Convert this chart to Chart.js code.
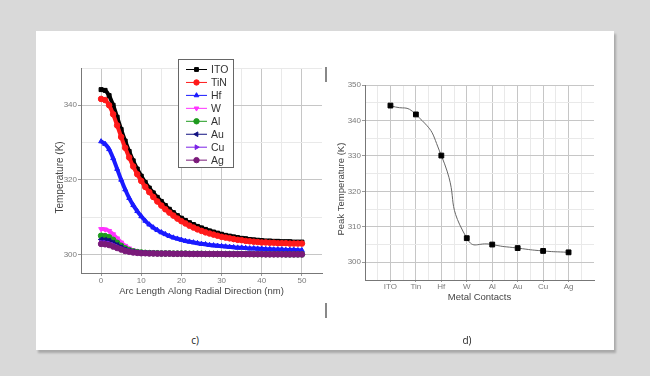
<!DOCTYPE html>
<html>
<head>
<meta charset="utf-8">
<script src="https://cdn.jsdelivr.net/npm/chart.js@4.4.1/dist/chart.umd.min.js"></script>
<style>
  html, body { margin: 0; padding: 0; }
  body { width: 650px; height: 376px; background: #d9d9d9; position: relative; overflow: hidden; }
  #panel { position: absolute; left: 36px; top: 31px; width: 578px; height: 319px; background: #fff;
           box-shadow: 2px 3px 2px rgba(0,0,0,0.22); }
  #c1 { position: absolute; left: 36px; top: 31px; }
  #c2 { position: absolute; left: 316px; top: 31px; }
  .lbl { position: absolute; font-family: "Open Sans", "Liberation Sans", sans-serif; font-size: 10px; color: #222;
         transform: translate(-50%, -50%); }
  .bar { position: absolute; width: 2px; background: #888; }
</style>
</head>
<body>
<div id="panel"></div>
<canvas id="c1" width="300" height="280"></canvas>
<canvas id="c2" width="300" height="290"></canvas>
<div class="bar" style="left:325px; top:67px; height:15px;"></div>
<div class="bar" style="left:325px; top:303px; height:15px;"></div>
<div class="lbl" style="left:195px; top:340px;">c)</div>
<div class="lbl" style="left:467px; top:340px;">d)</div>
<script>
// ---------- Data: chart c) ----------
const arcLength = [0,1,2,3,4,5,6,7,8,9,10,11,12,13,14,15,16,17,18,19,20,21,22,23,24,25,26,27,28,29,30,31,32,33,34,35,36,37,38,39,40,41,42,43,44,45,46,47,48,49,50];
const seriesNames = ["ITO","TiN","Hf","W","Al","Au","Cu","Ag"];
const tempITO = [344.2,344.0,342.6,340.0,336.8,333.5,330.4,327.6,325.1,322.9,321.0,
  319.3,317.8,316.5,315.3,314.2,313.1,312.1,311.2,310.4,309.7,
  309.1,308.5,308.0,307.5,307.1,306.7,306.3,306.0,305.7,305.4,
  305.1,304.9,304.7,304.5,304.3,304.2,304.0,303.9,303.8,303.7,
  303.6,303.6,303.5,303.5,303.4,303.4,303.4,303.3,303.3,303.3];
const tempTiN = [341.7,341.4,340.0,337.6,334.6,331.5,328.6,326.0,323.6,321.5,319.7,
  318.1,316.7,315.4,314.2,313.1,312.1,311.2,310.4,309.6,308.9,
  308.3,307.7,307.2,306.7,306.3,305.9,305.6,305.3,305.0,304.7,
  304.5,304.3,304.1,303.9,303.8,303.6,303.5,303.4,303.3,303.2,
  303.2,303.1,303.1,303.0,303.0,303.0,302.9,302.9,302.9,302.9];
const tempHf = [330.3,329.6,328.2,325.8,322.9,320.0,317.4,315.1,313.2,311.6,310.2,
  309.0,308.0,307.2,306.5,305.9,305.4,304.9,304.5,304.2,303.9,
  303.6,303.4,303.2,303.0,302.8,302.7,302.5,302.4,302.3,302.2,
  302.1,302.0,301.9,301.8,301.8,301.7,301.6,301.6,301.5,301.5,
  301.4,301.4,301.3,301.3,301.3,301.2,301.2,301.2,301.1,301.1];
const tempW = [306.8,306.7,306.3,305.4,304.3,303.2,302.3,301.6,301.1,300.8,300.6,
  300.5,300.4,300.35,300.3,300.3,300.25,300.25,300.2,300.2,300.2,
  300.2,300.15,300.15,300.15,300.15,300.1,300.1,300.1,300.1,300.1,
  300.1,300.1,300.1,300.1,300.1,300.1,300.1,300.05,300.05,300.05,
  300.05,300.05,300.05,300.05,300.05,300.0,300.0,300.0,300.0,300.0];
const tempAl = [305.0,304.9,304.6,303.9,303.1,302.3,301.6,301.1,300.8,300.6,300.5,
  300.4,300.35,300.3,300.3,300.25,300.25,300.25,300.2,300.2,300.2,
  300.2,300.15,300.15,300.15,300.15,300.1,300.1,300.1,300.1,300.1,
  300.1,300.1,300.1,300.1,300.1,300.1,300.1,300.05,300.05,300.05,
  300.05,300.05,300.05,300.05,300.05,300.0,300.0,300.0,300.0,300.0];
const tempAu = [304.0,303.9,303.7,303.1,302.5,301.9,301.3,300.9,300.7,300.5,300.4,
  300.35,300.3,300.3,300.25,300.25,300.25,300.25,300.2,300.2,300.2,
  300.2,300.15,300.15,300.15,300.15,300.1,300.1,300.1,300.1,300.1,
  300.1,300.1,300.1,300.1,300.1,300.1,300.1,300.05,300.05,300.05,
  300.05,300.05,300.05,300.05,300.05,300.0,300.0,300.0,300.0,300.0];
const tempCu = [303.2,303.1,302.9,302.5,302.0,301.5,301.1,300.8,300.6,300.5,300.4,
  300.35,300.3,300.3,300.25,300.25,300.25,300.25,300.2,300.2,300.2,
  300.2,300.15,300.15,300.15,300.15,300.1,300.1,300.1,300.1,300.1,
  300.1,300.1,300.1,300.1,300.1,300.1,300.1,300.05,300.05,300.05,
  300.05,300.05,300.05,300.05,300.05,300.0,300.0,300.0,300.0,300.0];
const tempAg = [302.8,302.7,302.5,302.1,301.7,301.3,300.9,300.7,300.5,300.4,300.3,
  300.3,300.25,300.25,300.2,300.2,300.2,300.2,300.15,300.15,300.15,
  300.15,300.1,300.1,300.1,300.1,300.1,300.1,300.1,300.1,300.1,
  300.05,300.05,300.05,300.05,300.05,300.05,300.05,300.05,300.05,300.05,
  300.0,300.0,300.0,300.0,300.0,300.0,300.0,300.0,300.0,300.0];
const xTicksC = [0,10,20,30,40,50];
const yTicksC = [300,320,340];

// ---------- Data: chart d) ----------
const metals = ["ITO","Tin","Hf","W","Al","Au","Cu","Ag"];
const peakTemps = [344.2,341.7,330.1,306.8,305.0,304.0,303.2,302.8];
const yTicksD = [300,310,320,330,340,350];

// ---------- Styles ----------
const FONT = '"Liberation Sans", Arial, sans-serif';
Chart.defaults.font.family = FONT;
const GRID_DARK = '#c6c6c6', GRID_LIGHT = '#e9e9e9', AXIS = '#777', TICK_TXT = '#7a7a7a', TITLE_TXT = '#444';

const seriesValues = [tempITO,tempTiN,tempHf,tempW,tempAl,tempAu,tempCu,tempAg];
const seriesColors = ['#000000','#ff1a1a','#1a1aff','#ff33ff','#1e9a1e','#101080','#7a22e6','#7a1a7a'];
const seriesStyles = [
  {s:'rect', r:0}, {s:'circle', r:0}, {s:'triangle', r:0}, {s:'triangle', r:180},
  {s:'circle', r:0}, {s:'triangle', r:-90}, {s:'triangle', r:90}, {s:'circle', r:0}
];

const dsC = seriesNames.map((name, i) => ({
  label: name,
  data: arcLength.map((x, k) => ({x: x, y: seriesValues[i][k]})),
  borderColor: seriesColors[i],
  backgroundColor: seriesColors[i],
  borderWidth: 4,
  pointRadius: 2.8,
  pointBorderWidth: 1,
  pointStyle: seriesStyles[i].s,
  rotation: seriesStyles[i].r,
  tension: 0.3,
  order: seriesNames.length - i
}));

const legendPlugin = {
  id: 'boxLegend',
  afterDraw(chart) {
    const ctx = chart.ctx;
    const bx = 142, by = 28, bw = 55, bh = 108;
    ctx.save();
    ctx.fillStyle = '#fff';
    ctx.fillRect(bx, by, bw, bh);
    ctx.strokeStyle = '#666';
    ctx.lineWidth = 1;
    ctx.strokeRect(bx + 0.5, by + 0.5, bw, bh);
    ctx.font = '10.5px ' + FONT;
    ctx.textBaseline = 'middle';
    ctx.textAlign = 'left';
    chart.data.datasets.forEach((ds, i) => {
      const y = by + 10.5 + i * 12.95;
      ctx.strokeStyle = ds.borderColor;
      ctx.lineWidth = 1;
      ctx.beginPath();
      ctx.moveTo(150, y); ctx.lineTo(171, y);
      ctx.stroke();
      ctx.fillStyle = ds.backgroundColor;
      if (Chart.helpers && Chart.helpers.drawPoint) {
        Chart.helpers.drawPoint(ctx, {pointStyle: ds.pointStyle, radius: 2.7, rotation: ds.rotation, borderWidth: 1}, 160.5, y);
      } else {
        ctx.beginPath(); ctx.arc(160.5, y, 2.5, 0, Math.PI * 2); ctx.fill();
      }
      ctx.fillStyle = '#333';
      ctx.fillText(ds.label, 175, y + 0.5);
    });
    ctx.restore();
  }
};

new Chart(document.getElementById('c1'), {
  type: 'line',
  data: { datasets: dsC },
  options: {
    responsive: false, animation: false,
    layout: { padding: { left: 0, right: 14, top: 37, bottom: 0 } },
    plugins: { legend: { display: false }, tooltip: { enabled: false } },
    scales: {
      x: {
        type: 'linear', min: -5, max: 55,
        afterFit: (s) => { s.height = 38; },
        ticks: { stepSize: 5, autoSkip: false, maxRotation: 0, padding: 0, color: TICK_TXT,
                 font: { size: 8 },
                 callback: (v) => xTicksC.includes(v) ? String(v) : '' },
        grid: {
          color: (c) => (c.tick.value <= -5 || c.tick.value >= 55) ? 'rgba(0,0,0,0)' : (c.tick.value % 10 === 0 ? GRID_DARK : GRID_LIGHT),
          tickColor: (c) => xTicksC.includes(c.tick.value) ? '#999' : 'rgba(0,0,0,0)',
          tickLength: 3, lineWidth: 1
        },
        border: { display: true, color: AXIS, width: 1 },
        title: { display: true, text: 'Arc Length Along Radial Direction (nm)', color: TITLE_TXT,
                 font: { size: 9.5 }, padding: { top: 0, bottom: 13.8 } }
      },
      y: {
        type: 'linear', min: 295, max: 350,
        afterFit: (s) => { s.width = 45; },
        ticks: { stepSize: 5, autoSkip: false, padding: 1, color: TICK_TXT, font: { size: 8 },
                 callback: (v) => yTicksC.includes(v) ? String(v) : '' },
        grid: {
          color: (c) => (c.tick.value <= 295) ? 'rgba(0,0,0,0)' : (c.tick.value % 20 === 0 ? GRID_DARK : (c.tick.value % 10 === 0 ? GRID_LIGHT : 'rgba(0,0,0,0)')),
          tickColor: (c) => yTicksC.includes(c.tick.value) ? '#999' : 'rgba(0,0,0,0)',
          tickLength: 3, lineWidth: 1
        },
        border: { display: true, color: AXIS, width: 1 },
        title: { display: true, text: 'Temperature (K)     ', color: TITLE_TXT,
                 font: { size: 10 }, padding: { top: 18, bottom: 0 } }
      }
    }
  },
  plugins: [legendPlugin]
});

new Chart(document.getElementById('c2'), {
  type: 'line',
  data: { datasets: [{
    label: 'Peak Temperature',
    data: metals.map((m, i) => ({x: i, y: peakTemps[i]})),
    borderColor: '#666', borderWidth: 1,
    backgroundColor: '#000', pointBorderColor: '#000',
    pointStyle: 'rect', pointRadius: 3.4, pointBorderWidth: 1,
    tension: 0.6
  }]},
  options: {
    responsive: false, animation: false,
    layout: { padding: { left: 0, right: 22, top: 54, bottom: 0 } },
    plugins: { legend: { display: false }, tooltip: { enabled: false } },
    scales: {
      x: {
        type: 'linear', min: -1, max: 8,
        afterFit: (s) => { s.height = 41; },
        ticks: { stepSize: 0.5, autoSkip: false, maxRotation: 0, padding: 0, color: TICK_TXT,
                 font: { size: 8 },
                 callback: (v) => (Number.isInteger(v) && v >= 0 && v < metals.length) ? metals[v] : '' },
        grid: {
          color: (c) => (c.tick.value <= -1 || c.tick.value >= 8) ? 'rgba(0,0,0,0)' : (Number.isInteger(c.tick.value) ? GRID_DARK : GRID_LIGHT),
          tickColor: (c) => (Number.isInteger(c.tick.value) && c.tick.value >= 0 && c.tick.value < 8) ? '#999' : 'rgba(0,0,0,0)',
          tickLength: 2, lineWidth: 1
        },
        border: { display: true, color: AXIS, width: 1 },
        title: { display: true, text: 'Metal Contacts', color: TITLE_TXT,
                 font: { size: 9.5 }, padding: { top: 0, bottom: 18 } }
      },
      y: {
        type: 'linear', min: 295, max: 350,
        afterFit: (s) => { s.width = 49; },
        ticks: { stepSize: 5, autoSkip: false, padding: 1, color: TICK_TXT, font: { size: 8 },
                 callback: (v) => yTicksD.includes(v) ? String(v) : '' },
        grid: {
          color: (c) => (c.tick.value <= 295) ? 'rgba(0,0,0,0)' : (c.tick.value % 10 === 0 ? GRID_DARK : GRID_LIGHT),
          tickColor: (c) => yTicksD.includes(c.tick.value) ? '#999' : 'rgba(0,0,0,0)',
          tickLength: 3, lineWidth: 1
        },
        border: { display: true, color: AXIS, width: 1 },
        title: { display: true, text: 'Peak Temperature (K)     ', color: TITLE_TXT,
                 font: { size: 9.5 }, padding: { top: 20, bottom: 0 } }
      }
    }
  }
});
</script>
</body>
</html>
